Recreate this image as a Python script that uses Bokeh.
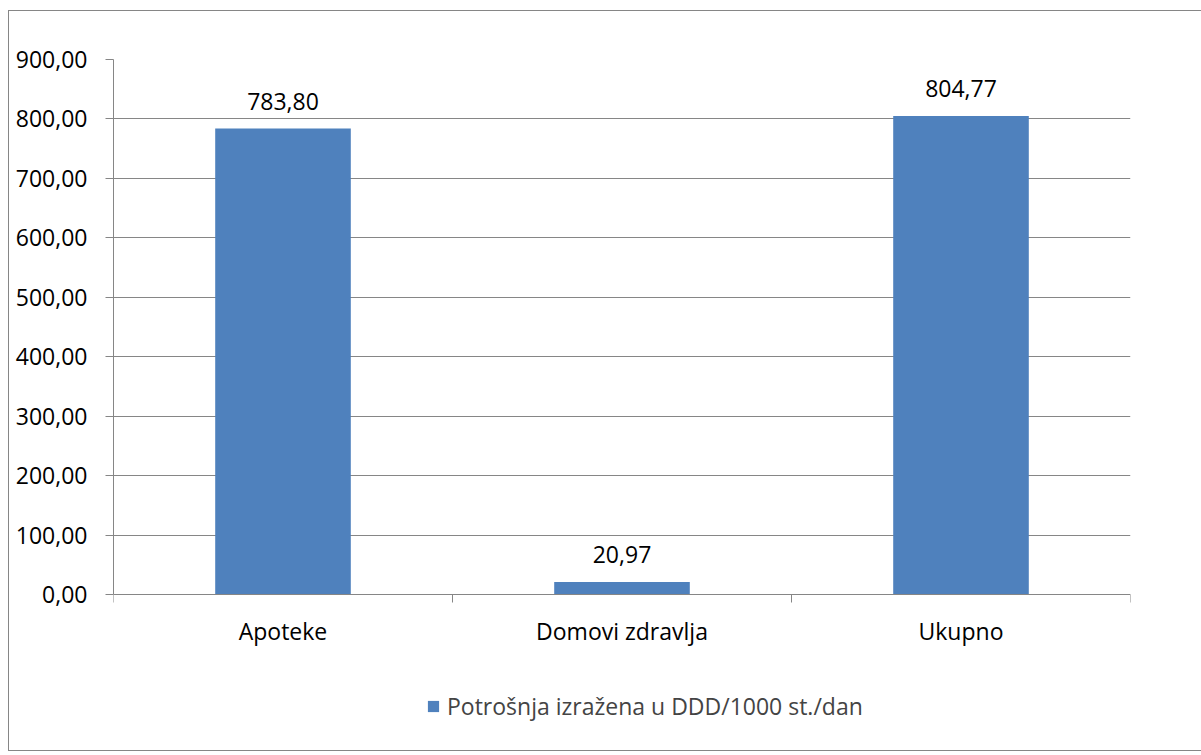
from bokeh.plotting import figure
from bokeh.models import (ColumnDataSource, FixedTicker, CustomJSTickFormatter,
                          Legend, LegendItem, Range1d, LinearAxis)
from bokeh.core.properties import value
from bokeh.embed import file_html
from bokeh.resources import INLINE

categories = ["Apoteke", "Domovi zdravlja", "Ukupno"]
values = [783.80, 20.97, 804.77]
series_name = "Potrošnja izražena u DDD/1000 st./dan"
y_ticks = [0, 100, 200, 300, 400, 500, 600, 700, 800, 900]

FONT = "Open Sans"
FS = "23px"
GRAY = "#868686"
BAR = "#4F81BD"

# layout: plot area extended below zero so the legend sits inside the frame
Y_MAX = 900
Y_MIN = -262.4

xs = [i + 0.5 for i in range(len(categories))]
labels = [f"{v:.2f}".replace(".", ",") for v in values]
src = ColumnDataSource(dict(x=xs, top=values, label=labels))

p = figure(frame_width=1017, frame_height=691, output_backend="svg", toolbar_location=None,
           x_range=Range1d(0, len(categories)), y_range=Range1d(Y_MIN, Y_MAX),
           x_axis_location=None, y_axis_location=None,
           min_border_left=104, min_border_right=75, min_border_top=48, min_border_bottom=0)
p.outline_line_color = None
p.background_fill_color = "white"
p.border_fill_color = "white"
p.styles = {"border": f"1px solid {GRAY}", "margin-top": "10px", "margin-left": "8px"}

r = p.vbar(x="x", top="top", width=0.4, bottom=0, source=src, fill_color=BAR, line_color=None)
p.text(x="x", y="top", text="label", source=src, text_align="center", text_baseline="bottom",
       y_offset=-19, text_font=value(FONT), text_font_size=FS, text_color="black")

yaxis = LinearAxis(ticker=FixedTicker(ticks=y_ticks),
                   formatter=CustomJSTickFormatter(code="return tick.toFixed(2).replace('.', ',');"))
yaxis.bounds = (0, Y_MAX)
yaxis.axis_line_color = GRAY
yaxis.major_tick_line_color = GRAY
yaxis.major_tick_in = 0
yaxis.major_tick_out = 8
yaxis.minor_tick_line_color = None
yaxis.major_label_text_font = FONT
yaxis.major_label_text_font_size = FS
yaxis.major_label_text_color = "black"
yaxis.major_label_standoff = 18
p.add_layout(yaxis, "left")

xaxis = LinearAxis(ticker=FixedTicker(ticks=xs, minor_ticks=list(range(len(categories) + 1))),
                   fixed_location=0)
xaxis.major_label_overrides = {x: c for x, c in zip(xs, categories)}
xaxis.axis_line_color = GRAY
xaxis.major_tick_line_color = None
xaxis.minor_tick_line_color = GRAY
xaxis.minor_tick_in = 0
xaxis.minor_tick_out = 8
xaxis.major_label_text_font = FONT
xaxis.major_label_text_font_size = FS
xaxis.major_label_text_color = "black"
xaxis.major_label_standoff = 12
p.add_layout(xaxis, "below")

p.xgrid.visible = False
p.ygrid.ticker = FixedTicker(ticks=y_ticks[1:])
p.ygrid.grid_line_color = GRAY
p.ygrid.grid_line_width = 1

legend = Legend(items=[LegendItem(label=series_name, renderers=[r])],
                location=(313, 28), orientation="horizontal",
                glyph_width=14, glyph_height=14, label_standoff=7,
                padding=0, margin=0, spacing=0,
                border_line_color=None, background_fill_alpha=0,
                label_text_font=FONT, label_text_font_size=FS)
p.add_layout(legend, "center")

open("out.html", "w").write(file_html(p, INLINE))
